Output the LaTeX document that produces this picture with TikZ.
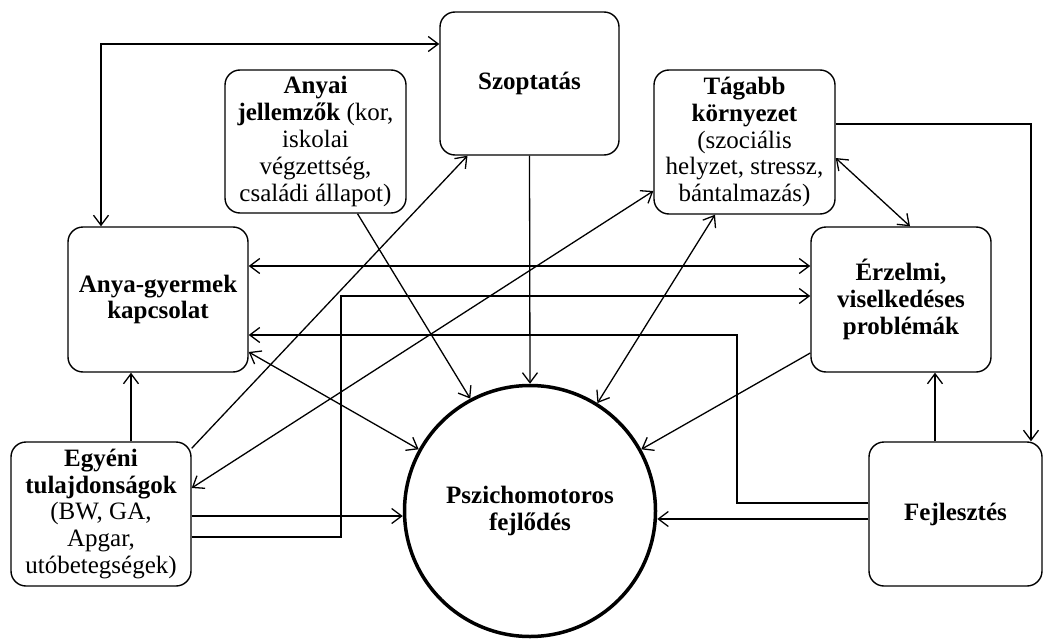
\documentclass[tikz,border=0pt]{standalone}
\usepackage{fontspec}
\setmainfont{Liberation Serif}
\usetikzlibrary{arrows.meta}
\tikzset{barb/.tip={Straight Barb[length=10pt,width=15pt]}}
\begin{document}
\begin{tikzpicture}[x=1pt,y=-1pt,
  box/.style={draw, line width=1.4pt, rounded corners=15pt, inner sep=0pt, align=center,
    font=\fontsize{25}{26.8}\selectfont},
  conn/.style={line width=1.3pt, -barb},
  both/.style={line width=1.3pt, barb-barb}]
\useasboundingbox (0,0) rectangle (1044,642);

% nodes
\node[box, minimum width=179pt, minimum height=143pt] (szop) at (529.5,83.5) {\bfseries Szoptatás};
\node[box, minimum width=181pt, minimum height=143pt] (anyai) at (315.5,141.5)
  {\textbf{Anyai}\\\textbf{jellemzők} (kor,\\iskolai\\végzettség,\\családi állapot)};
\node[box, minimum width=181pt, minimum height=144pt] (tag) at (744.5,142)
  {\textbf{Tágabb}\\\textbf{környezet}\\(szociális\\helyzet, stressz,\\bántalmazás)};
\node[box, minimum width=180pt, minimum height=145pt] (anya) at (158,299.5)
  {\textbf{Anya-gyermek}\\\textbf{kapcsolat}};
\node[box, minimum width=180pt, minimum height=145pt] (erz) at (901,299.5)
  {\textbf{Érzelmi,}\\\textbf{viselkedéses}\\\textbf{problémák}};
\node[box, minimum width=180pt, minimum height=144pt] (egy) at (101,514)
  {\textbf{Egyéni}\\\textbf{tulajdonságok}\\(BW, GA,\\Apgar,\\utóbetegségek)};
\node[box, minimum width=173pt, minimum height=144pt] (fej) at (955.5,514)
  {\bfseries Fejlesztés};
\node[circle, draw, line width=3.5pt, minimum size=251pt, inner sep=0pt, align=center,
  font=\fontsize{25}{26.8}\selectfont\bfseries] (psy) at (530,511) {Pszichomotoros\\fejlődés};

\coordinate (k1) at (341,296);
\coordinate (k2) at (737,335);
\coordinate (a1) at ([yshift=33.5pt]anya.east);
\coordinate (e1) at ([yshift=-2pt]egy.east);
\coordinate (f1) at ([yshift=-5pt]fej.west);

% connectors
\draw[both] ([yshift=39.5pt]szop.west) -| ([xshift=-57pt]anya.north);
\draw[conn] ([xshift=42pt]anyai.south) -- (psy.118);
\draw[conn] ([yshift=-7pt]egy.north east) -- ([xshift=-62pt]szop.south);
\draw[conn] (szop.south) -- (psy.north);
\draw[both] ([xshift=-29.5pt]tag.south) -- (psy.58);
\draw[both] ([yshift=26pt]egy.east) -- ([yshift=-49pt]tag.west);
\draw[conn] ([yshift=18pt]tag.east) -| ([xshift=75.5pt]fej.north);
\draw[both] ([yshift=-16pt]tag.east) -- ([xshift=9pt]erz.north);
\draw[both] (a1) -- (erz.west |- a1);
\draw[conn] ([yshift=-23pt]egy.east) -| (k1) -- (erz.west |- k1);
\draw[conn] ([yshift=11pt]fej.west) -| (k2) -- (anya.east |- k2);
\draw[both] ([yshift=-52.5pt]anya.east) -- (psy.151);
\draw[conn] ([xshift=30pt]egy.north) -- ([xshift=-27pt]anya.south);
\draw[conn] (e1) -- (psy.west |- e1);
\draw[conn] ([yshift=-53.5pt]erz.west) -- (psy.29);
\draw[conn] ([xshift=-20.5pt]fej.north) -- ([xshift=34pt]erz.south);
\draw[conn] (f1) -- (psy.east |- f1);
\end{tikzpicture}
\end{document}
